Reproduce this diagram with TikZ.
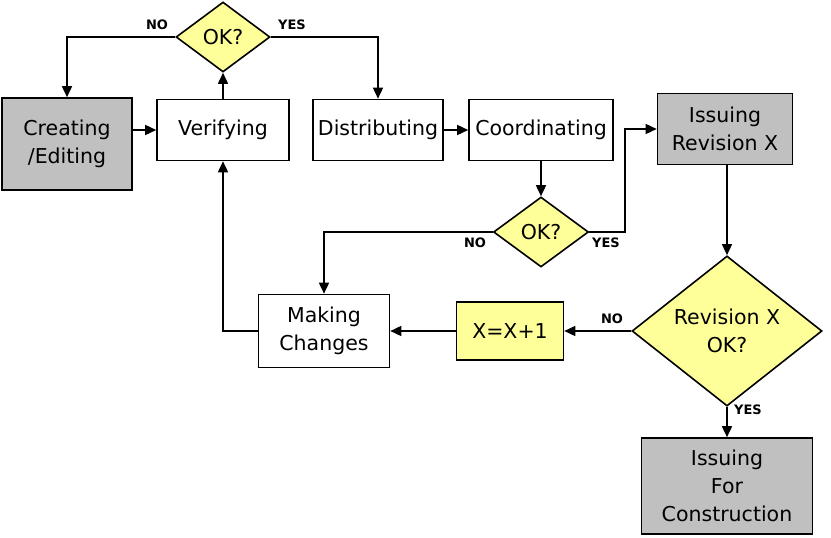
\documentclass[tikz,border=0pt]{standalone}
\usepackage{fontspec}
\setmainfont{DejaVu Sans}
\usetikzlibrary{shapes.geometric,arrows.meta}
\definecolor{gr}{HTML}{C0C0C0}
\definecolor{yl}{HTML}{FFFF99}
\begin{document}
\begin{tikzpicture}[x=1pt,y=-1pt,line width=1.6pt,
 box/.style={draw,minimum width=#1,align=center,font=\fontsize{20.5}{28}\selectfont,inner sep=0pt},
 dia/.style={draw,diamond,fill=yl,inner sep=0pt,align=center,font=\fontsize{20.5}{28}\selectfont},
 lab/.style={font=\bfseries\fontsize{13}{15}\selectfont},
 ar/.style={-{Triangle[length=11pt,width=10pt]}}]
\useasboundingbox (0,0) rectangle (831,538);
\node[box=130pt,minimum height=92pt,fill=gr] (ce) at (67,144) {Creating\\/Editing};
\node[box=132pt,minimum height=61pt] (ve) at (223,130) {Verifying};
\node[dia,minimum width=94pt,minimum height=70pt] (ok1) at (223,37) {OK?};
\node[box=130pt,minimum height=61pt] (di) at (378,130) {Distributing};
\node[box=144pt,minimum height=61pt] (co) at (541,130) {Coordinating};
\node[box=135pt,minimum height=71pt,fill=gr] (ir) at (725,129) {Issuing\\Revision X};
\node[dia,minimum width=95pt,minimum height=70pt] (ok2) at (541,232) {OK?};
\node[box=131pt,minimum height=73pt] (mc) at (324,331) {Making\\Changes};
\node[box=107pt,minimum height=58pt,fill=yl] (xx) at (510,331) {X=X+1};
\node[dia,minimum width=190pt,minimum height=132pt] (rok) at (727,331) {Revision X\\OK?};
\node[box=171pt,minimum height=96pt,fill=gr] (ifc) at (727,486) {Issuing\\For\\Construction};
\draw[ar] (ce.east|-ve) -- (ve);
\draw[ar] (ve) -- (ok1);
\draw[ar] (ok1.west) -| (ce.north);
\draw[ar] (ok1.east) -| (di.north);
\draw[ar] (di) -- (co);
\draw[ar] (co) -- (ok2);
\draw[ar] (ok2.west) -| (mc.north);
\draw[ar] (ok2.east) -- (625,232) |- (ir.west);
\draw[ar] (ir.south-|rok) -- (rok);
\draw[ar] (rok.west) -- (xx.east);
\draw[ar] (xx.west) -- (mc.east);
\draw[ar] (mc.west) -| (ve.south);
\draw[ar] (rok.south) -- (ifc.north);
\node[lab] (n1) at (157,25) {NO};
\node[lab] (y1) at (292,25) {YES};
\node[lab] (n2) at (475,243) {NO};
\node[lab] (y2) at (606,243) {YES};
\node[lab] (n3) at (612,319) {NO};
\node[lab] (y3) at (748,410) {YES};
\end{tikzpicture}
\end{document}
